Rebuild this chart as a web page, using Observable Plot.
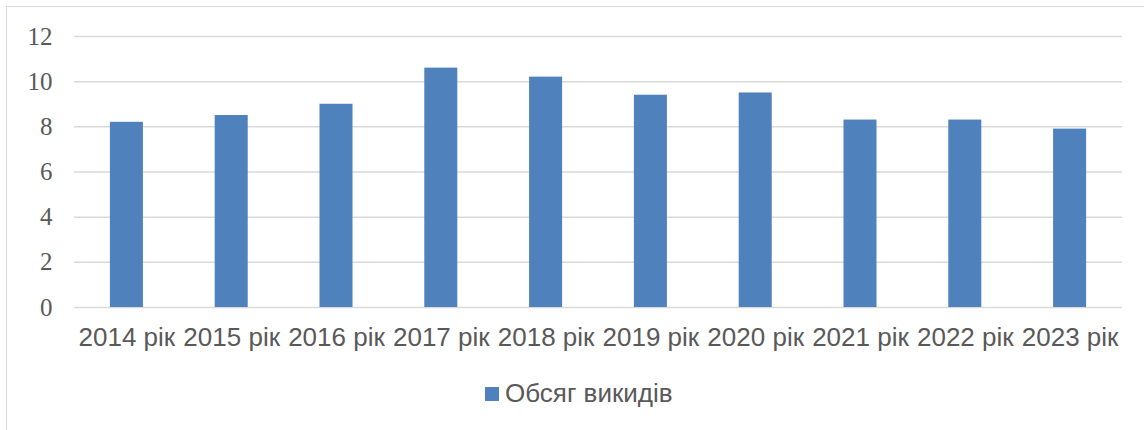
<!DOCTYPE html>
<html>
<head>
<meta charset="utf-8">
<script src="https://cdn.jsdelivr.net/npm/d3@7"></script>
<script src="https://cdn.jsdelivr.net/npm/@observablehq/plot@0.6"></script>
<style>
  html, body { margin: 0; padding: 0; background: #fff; }
  #chart { position: relative; width: 1144px; height: 430px; overflow: hidden; font-family: "Liberation Sans", Arial, sans-serif; }
  #frame { position: absolute; left: 6px; top: 6px; right: -4px; bottom: -4px; border-top: 1.5px solid #d9d9d9; border-left: 1.5px solid #d9d9d9; }
  #plot { position: absolute; left: 0; top: 0; }
  #legend { position: absolute; left: 485px; top: 378px; display: flex; align-items: center; color: #595959; font-size: 26px; font-family: "Liberation Sans", Arial, sans-serif; }
  #legend .sw { width: 14px; height: 14px; background: #4F81BD; margin-right: 6px; }
  #plot svg g[aria-label="y-axis tick label"],
  #plot svg g[aria-label="y-axis tick label"] text { font-family: "Liberation Serif", "Times New Roman", serif !important; font-size: 25px !important; }
</style>
</head>
<body>
<div id="chart">
  <div id="frame"></div>
  <div id="plot"></div>
  <div id="legend"></div>
</div>
<script>
const years = ["2014 рік", "2015 рік", "2016 рік", "2017 рік", "2018 рік", "2019 рік", "2020 рік", "2021 рік", "2022 рік", "2023 рік"];
const values = [8.2, 8.5, 9.0, 10.6, 10.2, 9.4, 9.5, 8.3, 8.3, 7.9];
const yTicks = [0, 2, 4, 6, 8, 10, 12];
const seriesName = "Обсяг викидів";
const barColor = "#4F81BD";

const data = years.map((year, i) => ({year, value: values[i]}));

const chart = Plot.plot({
  width: 1144,
  height: 360,
  marginLeft: 74,
  marginRight: 22,
  marginTop: 36,
  marginBottom: 53,
  style: {background: "transparent", color: "#595959", fontFamily: "Liberation Sans, Arial, sans-serif"},
  x: {domain: years, paddingInner: 0.685, paddingOuter: 0.3425, round: false, label: null},
  y: {domain: [0, 12], label: null},
  marks: [
    Plot.gridY(yTicks, {stroke: "#d9d9d9", strokeOpacity: 1, strokeWidth: 1.5}),
    Plot.barY(data, {x: "year", y: "value", fill: barColor}),
    Plot.axisY(yTicks, {tickSize: 0, tickPadding: 22, fontSize: 25, fill: "#595959", label: null}),
    Plot.axisX({tickSize: 0, tickPadding: 20, fontSize: 26, fill: "#595959", label: null})
  ]
});
document.getElementById("plot").appendChild(chart);

const legend = document.getElementById("legend");
const sw = document.createElement("span");
sw.className = "sw";
const lab = document.createElement("span");
lab.textContent = seriesName;
legend.appendChild(sw);
legend.appendChild(lab);
</script>
</body>
</html>
